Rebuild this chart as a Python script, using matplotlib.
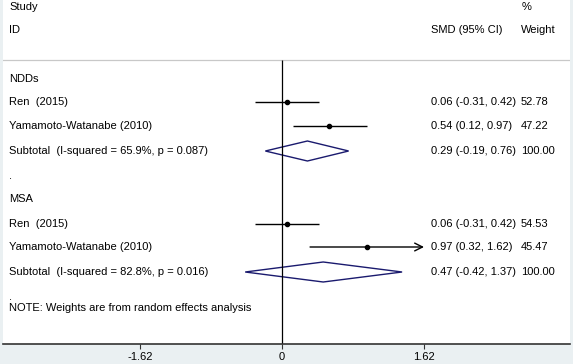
import matplotlib

matplotlib.use("Agg")

import matplotlib.pyplot as plt
import matplotlib.transforms as mtransforms

plt.rcParams["font.family"] = ["Liberation Sans", "DejaVu Sans"]

# study rows (label, SMD, lower, upper, weight)
group_names = ["NDDs", "MSA"]
study_labels = ["Ren  (2015)", "Yamamoto-Watanabe (2010)"]
ndd_smd = [0.06, 0.54]
ndd_lo = [-0.31, 0.12]
ndd_hi = [0.42, 0.97]
ndd_weight = ["52.78", "47.22"]
msa_smd = [0.06, 0.97]
msa_lo = [-0.31, 0.32]
msa_hi = [0.42, 1.62]
msa_weight = ["54.53", "45.47"]

# subtotals
subtotal_labels = [
    "Subtotal  (I-squared = 65.9%, p = 0.087)",
    "Subtotal  (I-squared = 82.8%, p = 0.016)",
]
sub_smd = [0.29, 0.47]
sub_lo = [-0.19, -0.42]
sub_hi = [0.76, 1.37]

tick_values = [-1.62, 0, 1.62]
tick_labels = ["-1.62", "0", "1.62"]
x_limit = 1.62  # CI beyond this gets an arrow

W, H = 573, 364
fig = plt.figure(figsize=(W / 100, H / 100), dpi=100)
fig.patch.set_facecolor("#eaf0f2")

# axes spans plot area: x 3..570 px, y 0..344 px (from top)
ax = fig.add_axes([3 / W, (H - 344) / H, 567 / W, 344 / H])
ax.set_facecolor("white")
px_per_unit = 142 / 1.62
zero_px = 282
ax.set_xlim((3 - zero_px) / px_per_unit, (570 - zero_px) / px_per_unit)
ax.set_ylim(344, 0)

for side in ["left", "right", "top"]:
    ax.spines[side].set_visible(False)
ax.spines["bottom"].set_color("#333333")
ax.spines["bottom"].set_linewidth(1.2)
ax.set_yticks([])
ax.set_xticks(tick_values)
ax.set_xticklabels(tick_labels)

fs = 8.0
ax.tick_params(axis="x", direction="out", length=3.5, width=0.8,
               colors="#333333", labelsize=fs, pad=2, labelcolor="black")

trans = mtransforms.blended_transform_factory(fig.transFigure, ax.transData)
left_x = 9 / W
smd_x = 431 / W
wt_x = 521 / W

def txt(x, y, s):
    ax.text(x, y, s, transform=trans, fontsize=fs, va="center", ha="left",
            clip_on=False)

# header
txt(left_x, 7, "Study")
txt(left_x, 30, "ID")
txt(smd_x, 30, "SMD (95% CI)")
txt(wt_x + 1 / W, 7, "%")
txt(wt_x, 30, "Weight")

ax.axhline(60, color="#c8c8c8", lw=0.9)
ax.vlines(0, 60, 344, color="black", lw=0.9)

groups = [
    (ndd_smd, ndd_lo, ndd_hi, ndd_weight, [79, 102, 126, 151, 176]),
    (msa_smd, msa_lo, msa_hi, msa_weight, [199, 224, 247, 272, 297]),
]

for g, (smd, lo, hi, wts, rows) in enumerate(groups):
    txt(left_x, rows[0], group_names[g])
    for i in range(len(smd)):
        y = rows[1 + i]
        txt(left_x, y, study_labels[i])
        if hi[i] >= x_limit:
            ax.annotate("", xy=(hi[i], y), xytext=(lo[i], y),
                        arrowprops=dict(arrowstyle="->", lw=1.0, color="black",
                                        mutation_scale=14, shrinkA=0, shrinkB=0))
        else:
            ax.hlines(y, lo[i], hi[i], color="black", lw=1.0)
        ax.plot(smd[i], y, "o", color="black", markersize=3)
        txt(smd_x, y, f"{smd[i]:.2f} ({lo[i]:.2f}, {hi[i]:.2f})")
        txt(wt_x, y, wts[i])
    y = rows[3]
    txt(left_x, y, subtotal_labels[g])
    ax.fill([sub_lo[g], sub_smd[g], sub_hi[g], sub_smd[g], sub_lo[g]],
            [y, y - 10, y, y + 10, y], facecolor="none",
            edgecolor="#1a1a6e", lw=1.0)
    txt(smd_x, y, f"{sub_smd[g]:.2f} ({sub_lo[g]:.2f}, {sub_hi[g]:.2f})")
    txt(wt_x, y, "100.00")
    txt(left_x, rows[4], ".")

txt(left_x, 308, "NOTE: Weights are from random effects analysis")

fig.savefig("out.png", dpi=100, facecolor=fig.get_facecolor())
